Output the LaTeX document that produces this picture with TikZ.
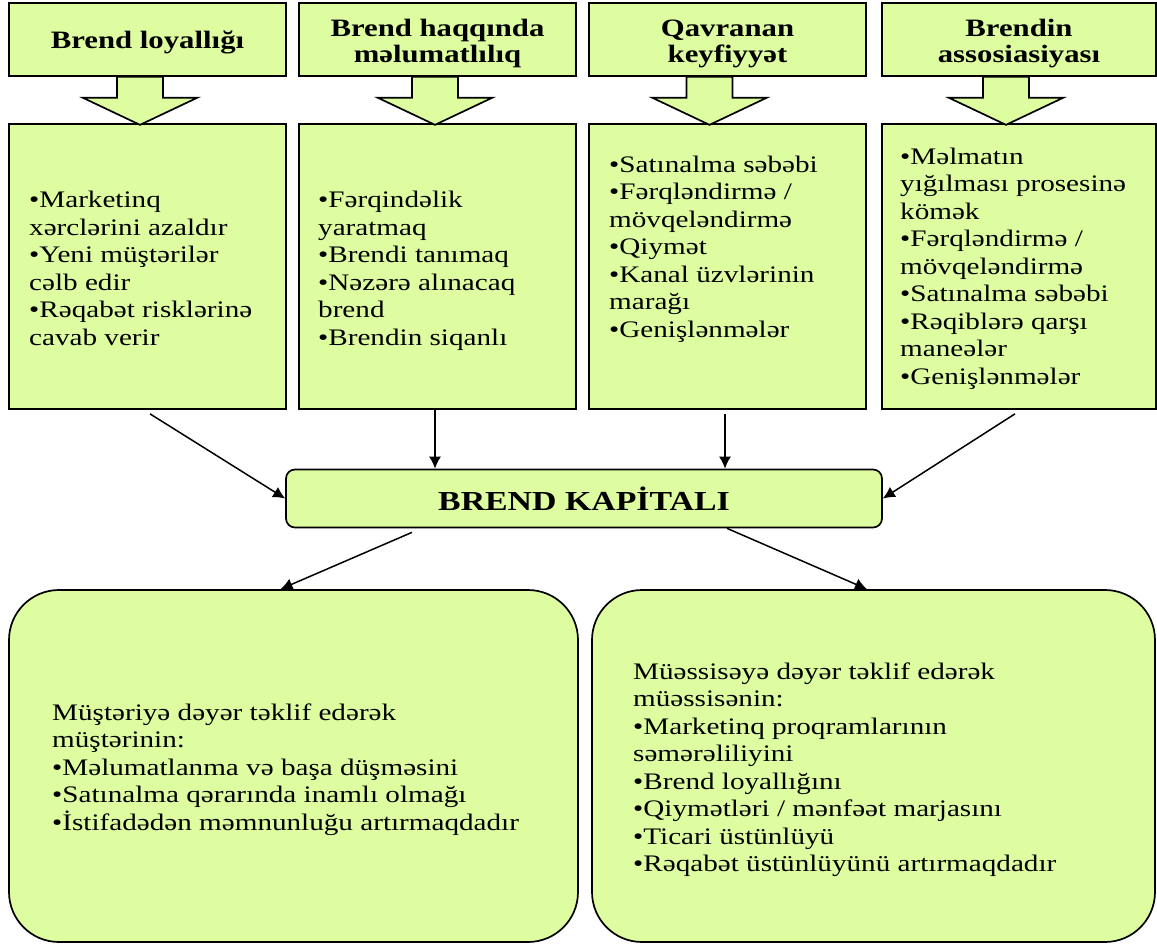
\documentclass[tikz,border=0pt]{standalone}
\usepackage{fontspec}
\setmainfont{Liberation Serif}[FakeStretch=1.23]
\usetikzlibrary{arrows.meta}
\definecolor{boxfill}{RGB}{221,253,160}
\tikzset{
  boxline/.style={draw=black, line width=1.7pt, fill=boxfill},
  hdr/.style={boxline, minimum width=277pt, minimum height=73pt, inner sep=0pt},
  hdrtxt/.style={align=center, inner sep=0pt, font=\fontsize{25}{26}\selectfont\bfseries},
  midbox/.style={boxline, minimum width=277pt, minimum height=285pt, inner sep=0pt},
  bigbox/.style={boxline, rounded corners=50pt, minimum height=352pt, inner sep=0pt},
  capbox/.style={boxline, rounded corners=9pt, minimum width=596pt, minimum height=58pt, inner sep=0pt,
    font=\fontsize{27.5}{28}\selectfont\bfseries},
  txt/.style={anchor=north west, inner sep=0pt, align=left, font=\fontsize{23.7}{27.5}\selectfont},
  barrow/.style={boxline},
  conn/.style={line width=1.5pt, -{Latex[length=12pt,width=12pt]}}
}
\newcommand\blockarrowat[2]{%
  \draw[barrow] ([xshift=#2pt]#1.south) ++(-23,0) -- ++(46,0) -- ++(0,21) -- ++(34,0)
    -- ++(-57,27) -- ++(-57,-27) -- ++(34,0) -- cycle;}
\begin{document}
\begin{tikzpicture}[x=1pt,y=-1pt]
\useasboundingbox (0,0) rectangle (1157,944);
% header boxes
\node[hdr] (h1) at (147.5,39.5) {};
\node[hdr] (h2) at (437.5,39.5) {};
\node[hdr] (h3) at (727.5,39.5) {};
\node[hdr, minimum width=274pt] (h4) at (1019,39.5) {};
\node[hdrtxt] (ht1) at ([yshift=-3pt]h1.center) {Brend loyallığı};
\node[hdrtxt] (ht2) at ([yshift=-4pt]h2.center) {Brend haqqında\\məlumatlılıq};
\node[hdrtxt] (ht3) at ([yshift=-4pt]h3.center) {Qavranan\\keyfiyyət};
\node[hdrtxt] (ht4) at ([yshift=-4pt]h4.center) {Brendin\\assosiasiyası};
% middle boxes
\node[midbox] (m1) at (147.5,266.5) {};
\node[midbox] (m2) at (437.5,266.5) {};
\node[midbox] (m3) at (727.5,266.5) {};
\node[midbox, minimum width=274pt] (m4) at (1019,266.5) {};
% block arrows
\blockarrowat{h1}{-7.5}
\blockarrowat{h2}{-2.5}
\blockarrowat{h3}{-18}
\blockarrowat{h4}{-13}
% texts of middle boxes
\node[txt] (t1) at (29,188.25) {\strut•Marketinq\\xərclərini azaldır\\•Yeni müştərilər\\cəlb edir\\•Rəqabət risklərinə\\cavab verir};
\node[txt] (t2) at (318,188.25) {\strut•Fərqindəlik\\yaratmaq\\•Brendi tanımaq\\•Nəzərə alınacaq\\brend\\•Brendin siqanlı};
\node[txt] (t3) at (609,152.75) {\strut•Satınalma səbəbi\\•Fərqləndirmə /\\mövqeləndirmə\\•Qiymət\\•Kanal üzvlərinin\\marağı\\•Genişlənmələr};
\node[txt] (t4) at (900,144.75) {\strut•Məlmatın\\yığılması prosesinə\\kömək\\•Fərqləndirmə /\\mövqeləndirmə\\•Satınalma səbəbi\\•Rəqiblərə qarşı\\maneələr\\•Genişlənmələr};
% central box
\node[capbox] (bk) at (584,498.5) {BREND KAPİTALI};
% bottom boxes
\node[bigbox, minimum width=569pt] (bl) at (293.5,766) {};
\node[bigbox, minimum width=563pt] (br) at (873.5,766) {};
\node[txt] (tb1) at (52,700.75) {\strut Müştəriyə dəyər təklif edərək\\müştərinin:\\•Məlumatlanma və başa düşməsini\\•Satınalma qərarında inamlı olmağı\\•İstifadədən məmnunluğu artırmaqdadır};
\node[txt] (tb2) at (633,659.75) {\strut Müəssisəyə dəyər təklif edərək\\müəssisənin:\\•Marketinq proqramlarının\\səmərəliliyini\\•Brend loyallığını\\•Qiymətləri / mənfəət marjasını\\•Ticari  üstünlüyü\\•Rəqabət üstünlüyünü artırmaqdadır};
% connectors
\draw[conn] ([xshift=2.5pt,yshift=-4pt]m1.south) -- (bk.west);
\draw[conn] ([xshift=-2.5pt]m2.south) -- ([xshift=-2.5pt]m2.south |- bk.north);
\draw[conn] ([xshift=-2.5pt,yshift=-4pt]m3.south) -- ([xshift=-2.5pt]m3.south |- bk.north);
\draw[conn] ([xshift=-4pt,yshift=-4pt]m4.south) -- (bk.east);
\draw[conn] ([xshift=-172pt,yshift=-4pt]bk.south) -- ([xshift=-13pt]bl.north);
\draw[conn] ([xshift=143pt]bk.south) -- ([xshift=-6.5pt]br.north);
\end{tikzpicture}
\end{document}
